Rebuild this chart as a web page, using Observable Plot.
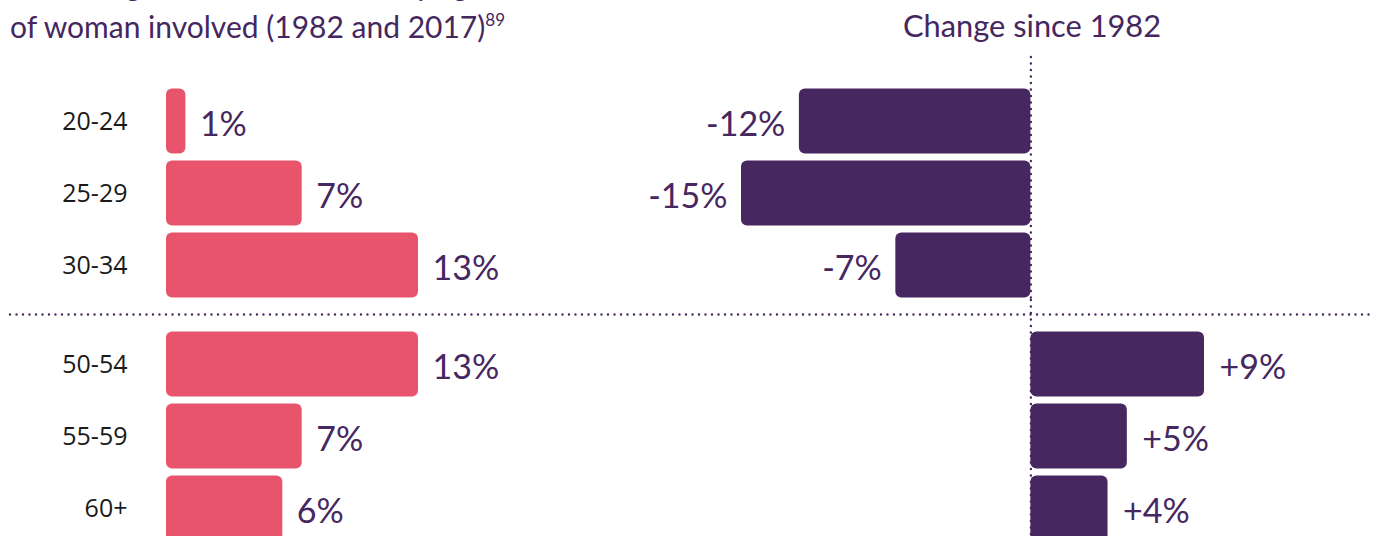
<!DOCTYPE html>
<html>
<head>
<meta charset="utf-8">
<script src="https://cdn.jsdelivr.net/npm/d3@7"></script>
<script src="https://cdn.jsdelivr.net/npm/@observablehq/plot@0.6"></script>
<style>
  html, body { margin: 0; padding: 0; background: #ffffff; overflow: hidden; }
  #wrap { position: relative; width: 1379px; height: 536px; overflow: hidden; background: #fff; }
  .title { position: absolute; font-family: Lato, sans-serif; font-size: 30px; line-height: 36px; color: #45275f; white-space: nowrap; }
  .title sup { font-size: 17px; vertical-align: 0; position: relative; top: -12px; }
  .panel { position: absolute; top: 0; }
</style>
</head>
<body>
<div id="wrap">
  <div class="title" style="left:10px; top:-34px;">Percentage of total abortions by age</div>
  <div class="title" style="left:10px; top:8px;">of woman involved (1982 and 2017)<sup>89</sup></div>
  <div class="title" style="left:903px; top:8px; font-size:30.8px;">Change since 1982</div>
  <div class="panel" id="left" style="left:0px;"></div>
  <div class="panel" id="right" style="left:600px;"></div>
  <div class="panel" id="divider" style="left:0px; top:308px;"></div>
</div>
<script>
const ages = ["20-24", "25-29", "30-34", "50-54", "55-59", "60+"];
const ageGroup = ["Under 35", "Under 35", "Under 35", "50 and over", "50 and over", "50 and over"];
const groupNames = ["Under 35", "50 and over"];
const share2017 = [1, 7, 13, 13, 7, 6];
const changeSince1982 = [-12, -15, -7, 9, 5, 4];

const pink = "#e8546c";
const purple = "#46275f";

const rows = ages.map((age, i) => {
  const group = ageGroup[i];
  const rank = ages.filter((a, j) => ageGroup[j] === group).indexOf(age);
  return {age, group, rank, share: share2017[i], change: changeSince1982[i]};
});

const common = {
  height: 545,
  marginTop: 84.4,
  marginBottom: 0.6,
  y: {domain: [0, 1, 2], axis: null, paddingInner: 0.1, paddingOuter: 0.05},
  fy: {domain: groupNames, axis: null, paddingInner: 0.107, paddingOuter: 0},
  facet: {data: rows, y: "group"},
  style: {background: "transparent", fontFamily: "Lato, sans-serif", overflow: "visible"}
};

const left = Plot.plot({
  ...common,
  width: 600,
  marginLeft: 166,
  marginRight: 182,
  x: {domain: [0, 13], axis: null},
  marks: [
    Plot.barX(rows, {x: "share", y: "rank", fill: pink, rx: 6}),
    Plot.text(rows, {x: 0, y: "rank", text: "age", textAnchor: "end", dx: -39, fontSize: 25, fontFamily: "Open Sans, sans-serif", fill: "#1a1a1a"}),
    Plot.text(rows, {x: "share", y: "rank", text: d => d.share + "%", textAnchor: "start", dx: 14, dy: 4, fontSize: 34, fill: purple})
  ]
});
document.getElementById("left").appendChild(left);

const right = Plot.plot({
  ...common,
  width: 779,
  marginLeft: 141,
  marginRight: 175,
  x: {domain: [-15, 9], axis: null},
  marks: [
    Plot.barX(rows, {x: "change", y: "rank", fill: purple, rx: 6}),
    Plot.ruleX([0], {stroke: purple, strokeWidth: 2.4, strokeDasharray: "0 6.5", strokeLinecap: "round", insetTop: -27}),
    Plot.text(rows, {filter: d => d.change < 0, x: "change", y: "rank", text: d => d.change + "%", textAnchor: "end", dx: -14, dy: 4, fontSize: 34, fill: purple}),
    Plot.text(rows, {filter: d => d.change > 0, x: "change", y: "rank", text: d => "+" + d.change + "%", textAnchor: "start", dx: 15, dy: 4, fontSize: 34, fill: purple})
  ]
});
document.getElementById("right").appendChild(right);

const divider = Plot.plot({
  width: 1379,
  height: 12,
  marginLeft: 10,
  marginRight: 9,
  marginTop: 0,
  marginBottom: 0,
  x: {domain: [0, 1], axis: null},
  y: {domain: [-1, 1], axis: null},
  style: {background: "transparent", overflow: "visible"},
  marks: [
    Plot.ruleY([0], {stroke: purple, strokeWidth: 2.4, strokeDasharray: "0 6.5", strokeLinecap: "round"})
  ]
});
document.getElementById("divider").appendChild(divider);
</script>
</body>
</html>
